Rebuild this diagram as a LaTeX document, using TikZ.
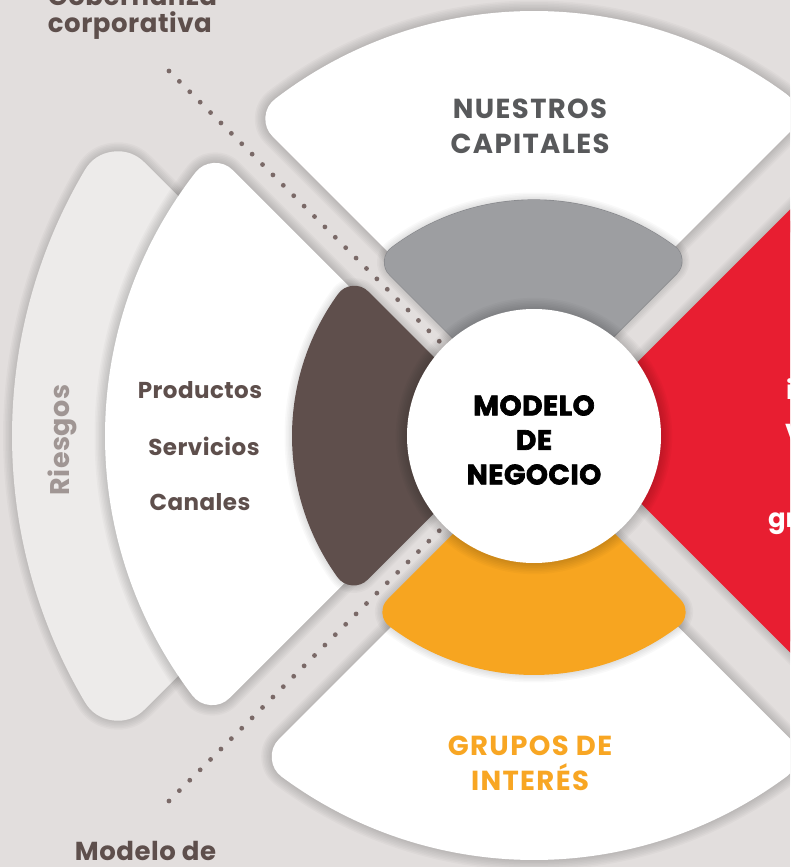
\documentclass[tikz,border=0pt]{standalone}
\usepackage{fontspec}
\setmainfont{Poppins}
\definecolor{bgc}{HTML}{E2DEDD}
\definecolor{riesc}{HTML}{EDEBEA}
\definecolor{grayS}{HTML}{9D9EA1}
\definecolor{grayO}{HTML}{85868A}
\definecolor{brownS}{HTML}{5F4F4C}
\definecolor{orangeS}{HTML}{F7A520}
\definecolor{redS}{HTML}{E81E31}
\definecolor{dotc}{HTML}{7A6967}
\definecolor{capgray}{HTML}{58595B}
\definecolor{txtbrown}{HTML}{5E4F4C}
\definecolor{riestxt}{HTML}{A09694}
\definecolor{grpor}{HTML}{F8A623}

% #1 rotation, #2 offset a (cw edge), #3 offset b (ccw edge), #4 radius, #5 corner radius,
% #6 fill colour, #7 outline option, #8 shadow steps
\newcommand\wheelsector[8]{%
 \begin{scope}[rotate=#1]
  \pgfmathsetmacro\Rr{#4-#5}%
  \pgfmathsetmacro\ea{#2+#5}%
  \pgfmathsetmacro\eb{#3+#5}%
  \pgfmathsetmacro\sA{45+asin(\ea/\Rr)}%
  \pgfmathsetmacro\sB{135-asin(\eb/\Rr)}%
  \pgfmathsetmacro\apx{(\eb-\ea)/sqrt(2)}%
  \pgfmathsetmacro\apy{(\ea+\eb)/sqrt(2)}%
  \pgfmathsetmacro\lw{2*#5}%
  \foreach \k in {1,...,#8}{%
    \pgfmathsetmacro\sw{\lw+3*\k}%
    \draw[black, opacity=0.024, line width=\sw, line join=round]
      (\apx,\apy) -- (\sA:\Rr) arc[start angle=\sA, end angle=\sB, radius=\Rr] -- cycle;
  }%
  \pgfmathsetmacro\ow{\lw+1.2}%
  \path[#7, line width=\ow, line join=round]
      (\apx,\apy) -- (\sA:\Rr) arc[start angle=\sA, end angle=\sB, radius=\Rr] -- cycle;
  \path[fill=#6, draw=#6, line width=\lw, line join=round]
      (\apx,\apy) -- (\sA:\Rr) arc[start angle=\sA, end angle=\sB, radius=\Rr] -- cycle;
 \end{scope}}

\tikzset{
  lbl/.style={inner sep=0pt, outer sep=0pt},
  bigcap/.style={lbl, font=\bfseries\fontsize{27.5}{35}\selectfont\addfontfeature{LetterSpace=5}, align=center},
  brownlbl/.style={lbl, text=txtbrown, font=\bfseries\fontsize{23}{26}\selectfont\addfontfeature{LetterSpace=2}},
  sidelbl/.style={lbl, text=txtbrown, font=\bfseries\fontsize{26}{27}\selectfont\addfontfeature{LetterSpace=2}, anchor=base west},
  redlbl/.style={lbl, text=white, font=\bfseries\fontsize{26}{30}\selectfont, anchor=base west},
}

\begin{document}
\begin{tikzpicture}[x=1pt,y=1pt]
\useasboundingbox (-534,-431) rectangle (256,436);
\clip (-534,-431) rectangle (256,436);
\fill[bgc] (-534,-431) rectangle (256,436);

% outer ring
\wheelsector{90}{82}{82}{522}{38}{riesc}{draw=none}{6}
\wheelsector{90}{25}{30}{429}{25}{white}{draw=none}{7}
\wheelsector{0}{34}{27}{425}{25}{white}{draw=none}{7}
\wheelsector{180}{34}{33}{424}{25}{white}{draw=none}{7}
\wheelsector{-90}{28}{21}{720}{8}{redS}{draw=none}{6}

% dotted guides
\foreach \d in {0,...,26}{
  \pgfmathsetmacro\rr{134+\d*14.7}
  \fill[dotc] (135:\rr) circle (2.4);
  \fill[dotc] (225:\rr) circle (2.4);
}

% inner ring
\wheelsector{0}{14}{12}{236}{18}{grayS}{draw=grayO}{5}
\wheelsector{90}{15}{16}{242}{20}{brownS}{draw=none}{5}
\wheelsector{180}{12}{12}{239}{18}{orangeS}{draw=none}{5}

% hub
\foreach \k in {1,...,7}{\fill[black, opacity=0.022] (0,0) circle ({127+1.6*\k});}
\node[circle, fill=white, minimum size=254pt, inner sep=0pt] (hub) at (0,0) {};
\node[lbl, align=center, text=black, font=\bfseries\fontsize{28}{34.5}\selectfont\addfontfeature{FakeBold=2.5,LetterSpace=2}] (hubtxt) at (0,-4) {MODELO\\DE\\NEGOCIO};

% labels
\node[bigcap, text=capgray] (capitales) at (-4,310) {NUESTROS\\CAPITALES};
\node[bigcap, text=grpor] (grupos) at (-4,-327) {GRUPOS DE\\INTERÉS};
\node[brownlbl] (prod) at (-334,46) {Productos};
\node[brownlbl] (serv) at (-330,-10) {Servicios};
\node[brownlbl] (can) at (-334,-66) {Canales};
\node[lbl, rotate=90, text=riestxt, font=\bfseries\fontsize{27}{30}\selectfont\addfontfeature{LetterSpace=2}] (ries) at (-472,-4) {Riesgos};
\node[sidelbl] (gob1) at (-486,430) {Gobernanza};
\node[sidelbl] (gob2) at (-486,403) {corporativa};
\node[sidelbl] (mod1) at (-459,-424) {Modelo de};
\node[redlbl] (r1) at (252,36) {i};
\node[redlbl] (r2) at (251,-7) {V};
\node[redlbl] (r3) at (234,-91) {gr};
\end{tikzpicture}
\end{document}
